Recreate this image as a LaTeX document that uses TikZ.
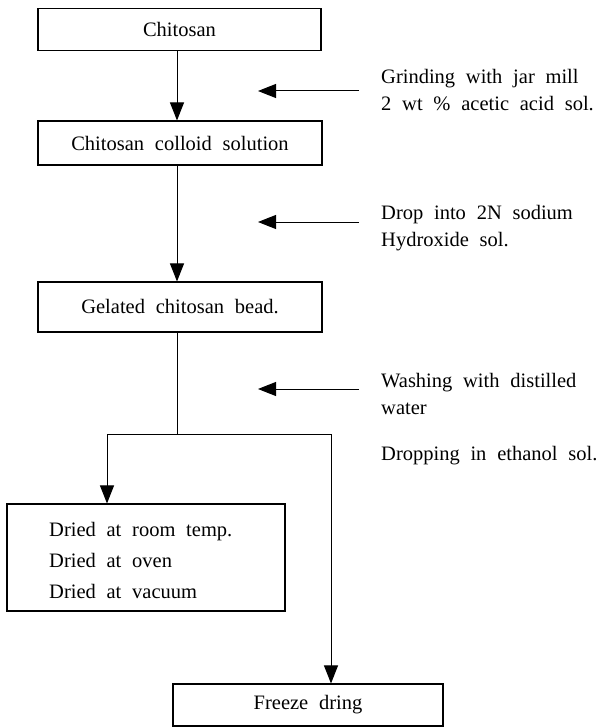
\documentclass[tikz,border=0pt]{standalone}
\usepackage{fontspec}
\setmainfont[WordSpace=2.1]{Liberation Serif}
\usetikzlibrary{arrows.meta}
\begin{document}
\begin{tikzpicture}[x=1pt,y=-1pt,
  every node/.style={inner sep=0pt, font=\fontsize{20.5}{27}\selectfont},
  box/.style={draw, line width=1.1pt, minimum height=#1},
  box/.default=42pt,
  conn/.style={line width=1pt},
  arr/.style={line width=1pt, -{Triangle[length=18pt,width=14pt]}},
  note/.style={anchor=west, align=left}]
\useasboundingbox (0,0) rectangle (599,727);
% boxes
\node[box, minimum width=283pt] (chit) at (179.5,29.5) {Chitosan};
\node[box=44pt, minimum width=284pt] (coll) at (180,143) {Chitosan colloid solution};
\node[box=50pt, minimum width=284pt] (gel) at (180,307) {Gelated chitosan bead.};
\node[box=107pt, minimum width=278pt] (dried) at (146,557.5) {};
\node[note, font=\fontsize{20.5}{31}\selectfont] (driedtxt) at (49,560)
  {Dried at room temp.\\Dried at oven\\Dried at vacuum};
\node[box, minimum width=270pt] (freeze) at (308,705) {Freeze dring};
% main column
\coordinate (col) at (177,0);
\draw[arr] (chit.south -| col) -- (coll.north -| col);
\draw[arr] (coll.south -| col) -- (gel.north -| col);
\coordinate (split) at (177,434);
\coordinate (bl) at (107,434);
\coordinate (br) at (331,434);
\draw[conn] (gel.south -| col) -- (split);
\draw[conn] (bl) -- (br);
\draw[arr] (bl) -- (dried.north -| bl);
\draw[arr] (br) -- (freeze.north -| br);
% side arrows
\coordinate (s1) at (359,91);  \coordinate (t1) at (258,91);
\coordinate (s2) at (359,222); \coordinate (t2) at (258,222);
\coordinate (s3) at (359,389); \coordinate (t3) at (258,389);
\draw[arr] (s1) -- (t1);
\draw[arr] (s2) -- (t2);
\draw[arr] (s3) -- (t3);
\node[note] (n1) at (381,90) {Grinding with jar mill\\2 wt \% acetic acid sol.};
\node[note] (n2) at (381,228) {Drop into 2N sodium\\Hydroxide sol.};
\node[note] (n3) at (381,394) {Washing with distilled\\water};
\node[note] (n4) at (381,456) {Dropping in ethanol sol.};
\end{tikzpicture}
\end{document}
